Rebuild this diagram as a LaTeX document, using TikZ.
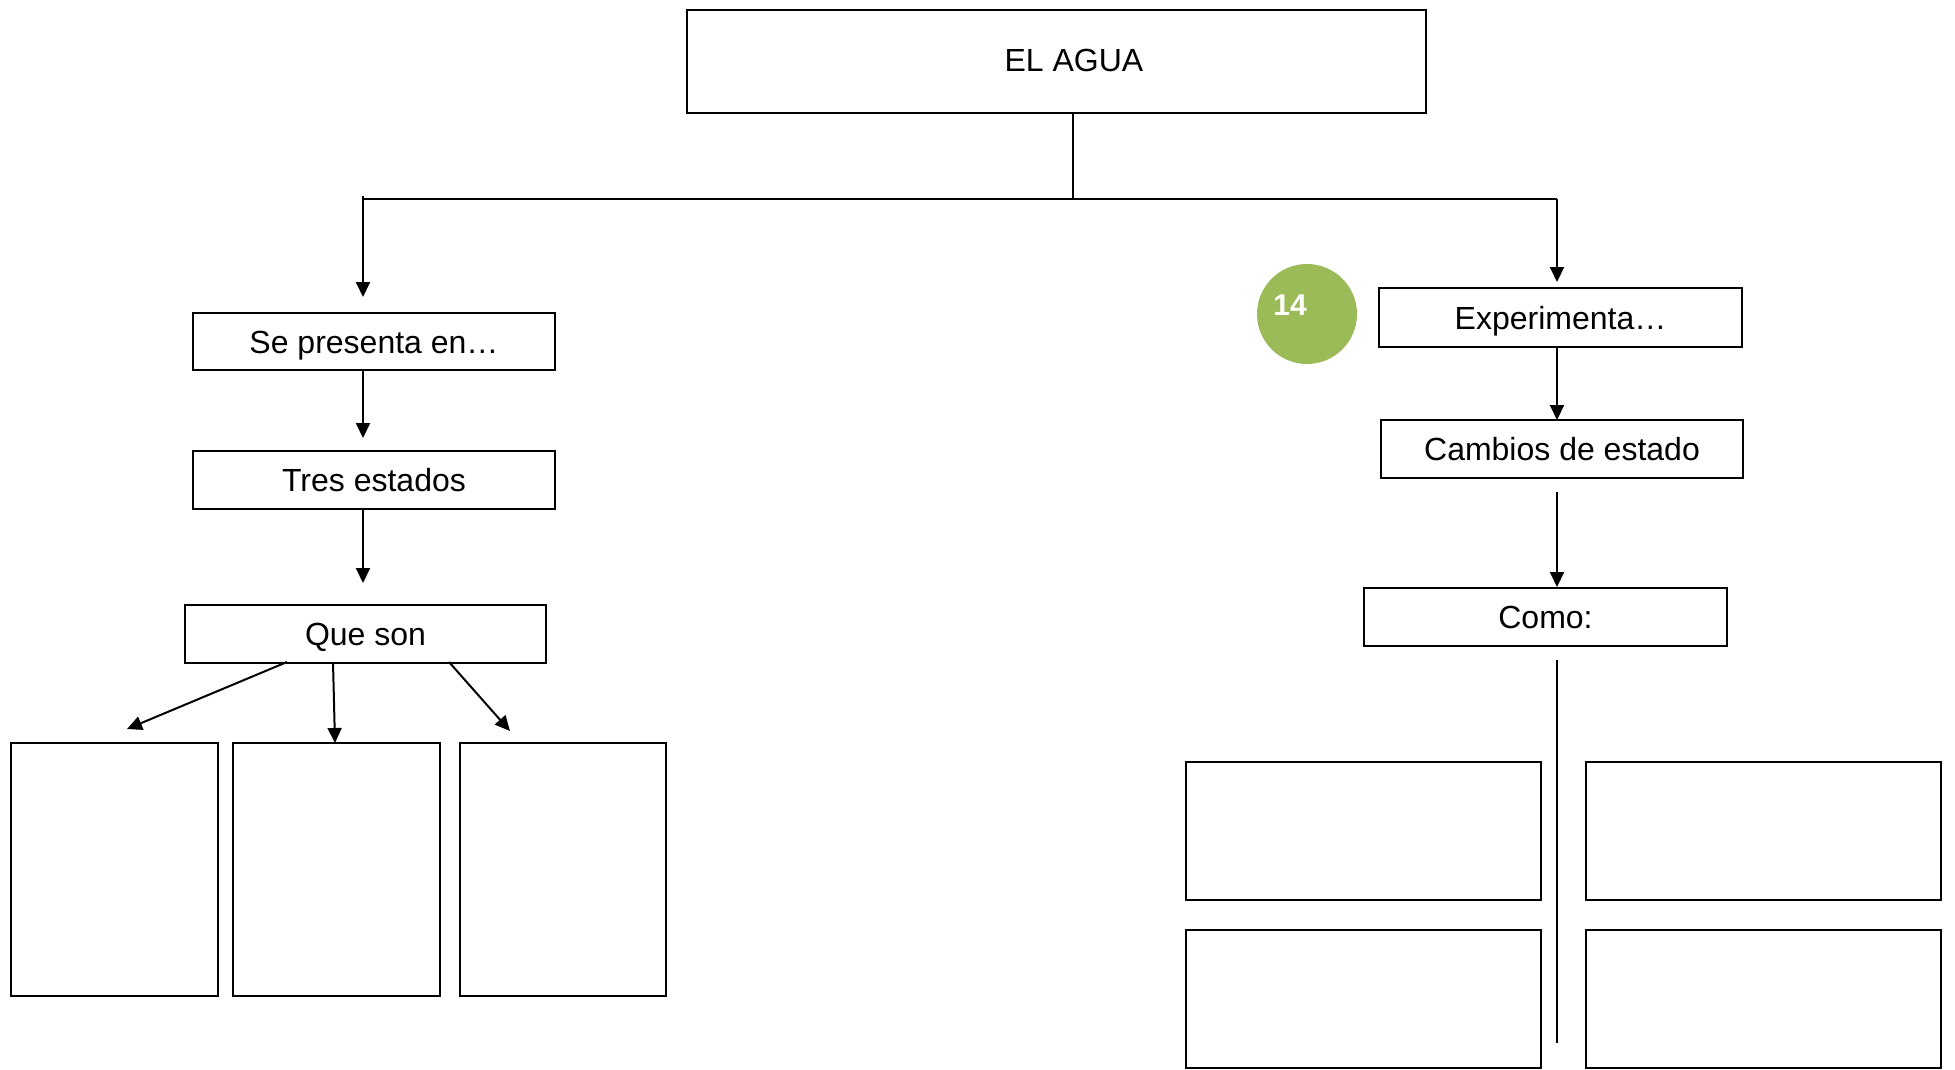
\documentclass[tikz,border=0pt]{standalone}
\usepackage{fontspec}
\setmainfont{Liberation Sans}
\usetikzlibrary{arrows.meta}
\definecolor{olivegreen}{RGB}{155,187,89}
\begin{document}
\begin{tikzpicture}[x=1pt,y=-1pt,
  box/.style={draw=black,line width=2pt,inner sep=0pt,text height=23pt,text depth=0pt,font=\fontsize{32}{38}\selectfont},
  arr/.style={line width=2pt,-{Triangle[length=15pt,width=14pt]}},
  ln/.style={line width=2pt}]
\useasboundingbox[fill=white] (0,0) rectangle (1955,1069);
% top
\node[box,minimum width=739pt,minimum height=103pt] (agua) at (1056.5,61.5) {};
\node[inner sep=0pt,text height=23pt,text depth=0pt,font=\fontsize{32}{38}\selectfont] (aguatxt) at (1074,60) {EL AGUA};
% left column
\node[box,minimum width=362pt,minimum height=57pt] (sep) at (374,341.5) {Se presenta en…};
\node[box,minimum width=362pt,minimum height=58pt] (tres) at (374,480) {Tres estados};
\node[box,minimum width=361pt,minimum height=58pt] (que) at (365.5,633.5) {Que son};
\node[box,minimum width=207pt,minimum height=253pt] (e1) at (114.5,869.5) {};
\node[box,minimum width=207pt,minimum height=253pt] (e2) at (336.5,869.5) {};
\node[box,minimum width=206pt,minimum height=253pt] (e3) at (563,869.5) {};
% right column
\node[circle,fill=olivegreen,minimum size=100pt,inner sep=0pt] (badge) at (1307,314) {};
\node[text=white,inner sep=0pt,text height=22pt,text depth=0pt,font=\fontsize{30}{36}\selectfont\bfseries] (badgetxt) at (1290,304) {14};
\node[box,minimum width=363pt,minimum height=59pt] (exp) at (1560.5,317.5) {Experimenta…};
\node[box,minimum width=362pt,minimum height=58pt] (camb) at (1562,449) {Cambios de estado};
\node[box,minimum width=363pt,minimum height=58pt] (como) at (1545.5,617) {Como:};
\node[box,minimum width=355pt,minimum height=138pt] (c1) at (1363.5,831) {};
\node[box,minimum width=355pt,minimum height=138pt] (c2) at (1763.5,831) {};
\node[box,minimum width=355pt,minimum height=138pt] (c3) at (1363.5,999) {};
\node[box,minimum width=355pt,minimum height=138pt] (c4) at (1763.5,999) {};
% connector points
\coordinate (j) at (1073,199);
\coordinate (jl) at (363,199);
\coordinate (jlt) at (363,196);
\coordinate (jr) at (1557,199);
\coordinate (tl) at (363,297);
\coordinate (tr) at (1557,282);
\coordinate (s1) at (363,370);
\coordinate (t1) at (363,438);
\coordinate (s2) at (363,509);
\coordinate (t2) at (363,583);
\coordinate (q1) at (287,662);
\coordinate (q2) at (333,662);
\coordinate (q3) at (449,662);
\coordinate (qt1) at (127,729);
\coordinate (qt2) at (335,743);
\coordinate (qt3) at (510,731);
\coordinate (x1) at (1557,347);
\coordinate (x2) at (1557,420);
\coordinate (cs) at (1557,492);
\coordinate (ct) at (1557,587);
\coordinate (vs) at (1557,660);
\coordinate (ve) at (1557,1043);
% connectors
\draw[ln] (j |- agua.south) -- (j);
\draw[ln] (jl) -- (jr);
\draw[arr] (jlt) -- (tl);
\draw[arr] (jr) -- (tr);
\draw[arr] (s1) -- (t1);
\draw[arr] (s2) -- (t2);
\draw[arr] (q1) -- (qt1);
\draw[arr] (q2) -- (qt2);
\draw[arr] (q3) -- (qt3);
\draw[arr] (x1) -- (x2);
\draw[arr] (cs) -- (ct);
\draw[ln] (vs) -- (ve);
\end{tikzpicture}
\end{document}
